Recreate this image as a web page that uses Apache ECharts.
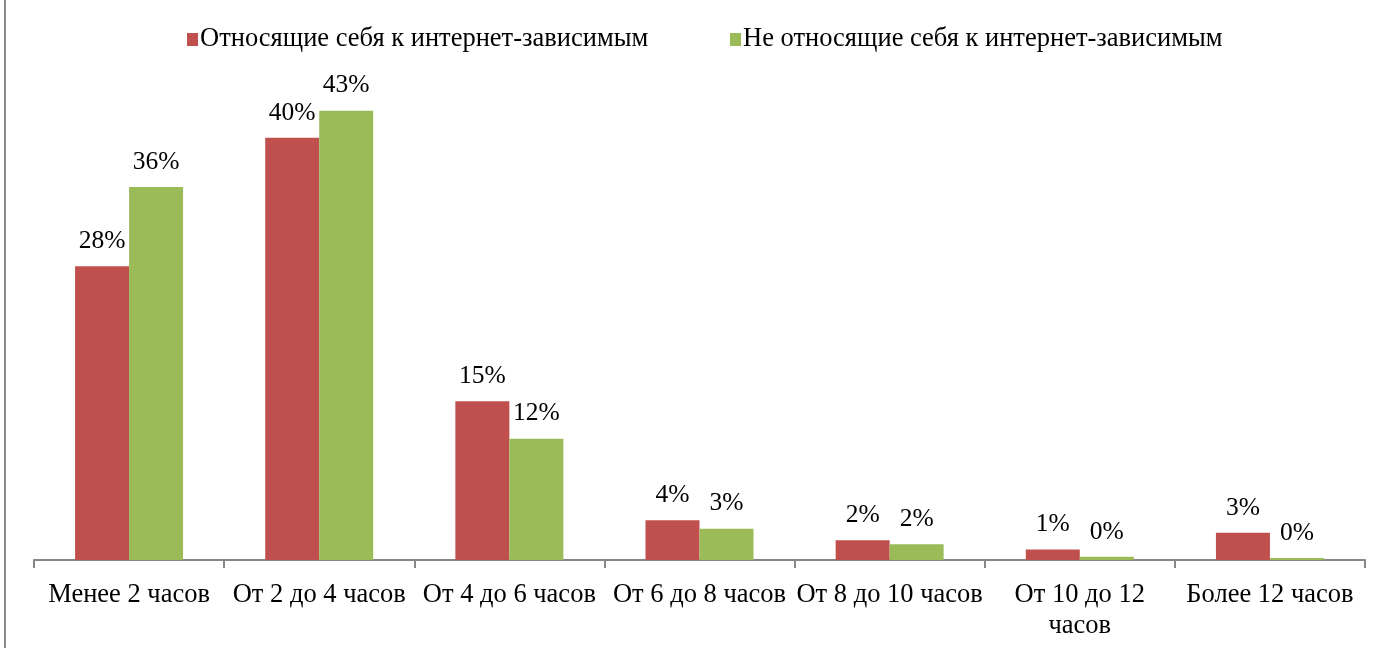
<!DOCTYPE html>
<html>
<head>
<meta charset="utf-8">
<script src="https://cdn.jsdelivr.net/npm/echarts@6/dist/echarts.min.js"></script>
<style>
  html, body { margin: 0; padding: 0; background: #fff; }
  #main { width: 1383px; height: 648px; }
</style>
</head>
<body>
<div id="main"></div>
<script>
var categories = ['Менее 2 часов', 'От 2 до 4 часов', 'От 4 до 6 часов', 'От 6 до 8 часов',
                  'От 8 до 10 часов', 'От 10 до 12\nчасов', 'Более 12 часов'];
var seriesNames = ['Относящие себя к интернет-зависимым', 'Не относящие себя к интернет-зависимым'];
// bar heights, labels are the rounded values
var addicted = [28.1, 40.4, 15.2, 3.8, 1.9, 1.0, 2.6];
var notAddicted = [35.7, 43.0, 11.6, 3.0, 1.5, 0.3, 0.2];

var font = '"Liberation Serif", "Times New Roman", serif';

function pctLabel(p) {
  return Math.round(p.value) + '%';
}

function legendAt(left, name) {
  return {
    top: 21,
    left: left,
    itemWidth: 11,
    itemHeight: 13,
    icon: 'rect',
    textStyle: { fontFamily: font, fontSize: 26.5, color: '#000', padding: [0, 0, 0, -3] },
    data: [name]
  };
}

var myChart = echarts.init(document.getElementById('main'));
var option = {
  backgroundColor: '#fff',
  animation: false,
  textStyle: { fontFamily: font },
  legend: [legendAt(182, seriesNames[0]), legendAt(725, seriesNames[1])],
  grid: { left: 34, right: 18, top: 37.5, bottom: 88, containLabel: false, outerBoundsMode: 'none' },
  xAxis: {
    type: 'category',
    data: categories,
    axisLine: { lineStyle: { color: '#868686', width: 2 } },
    axisTick: { show: true, length: 8, lineStyle: { color: '#868686', width: 2 } },
    axisLabel: { fontFamily: font, fontSize: 26.5, color: '#000', margin: 20, interval: 0, lineHeight: 31 }
  },
  yAxis: {
    type: 'value',
    min: 0,
    max: 50,
    show: false,
    splitLine: { show: false }
  },
  series: [
    {
      name: seriesNames[0],
      type: 'bar',
      data: addicted,
      barWidth: 54,
      barGap: '0%',
      itemStyle: { color: '#C0504D' },
      label: { show: true, position: 'top', distance: 12, formatter: pctLabel,
               fontFamily: font, fontSize: 25.5, color: '#000' }
    },
    {
      name: seriesNames[1],
      type: 'bar',
      data: notAddicted,
      barWidth: 54,
      barGap: '0%',
      itemStyle: { color: '#9BBB59' },
      label: { show: true, position: 'top', distance: 12, formatter: pctLabel,
               fontFamily: font, fontSize: 25.5, color: '#000' }
    }
  ],
  graphic: [
    { type: 'line', shape: { x1: 5, y1: 0, x2: 5, y2: 648 }, style: { stroke: '#898989', lineWidth: 2 } }
  ]
};
myChart.setOption(option);
</script>
</body>
</html>
